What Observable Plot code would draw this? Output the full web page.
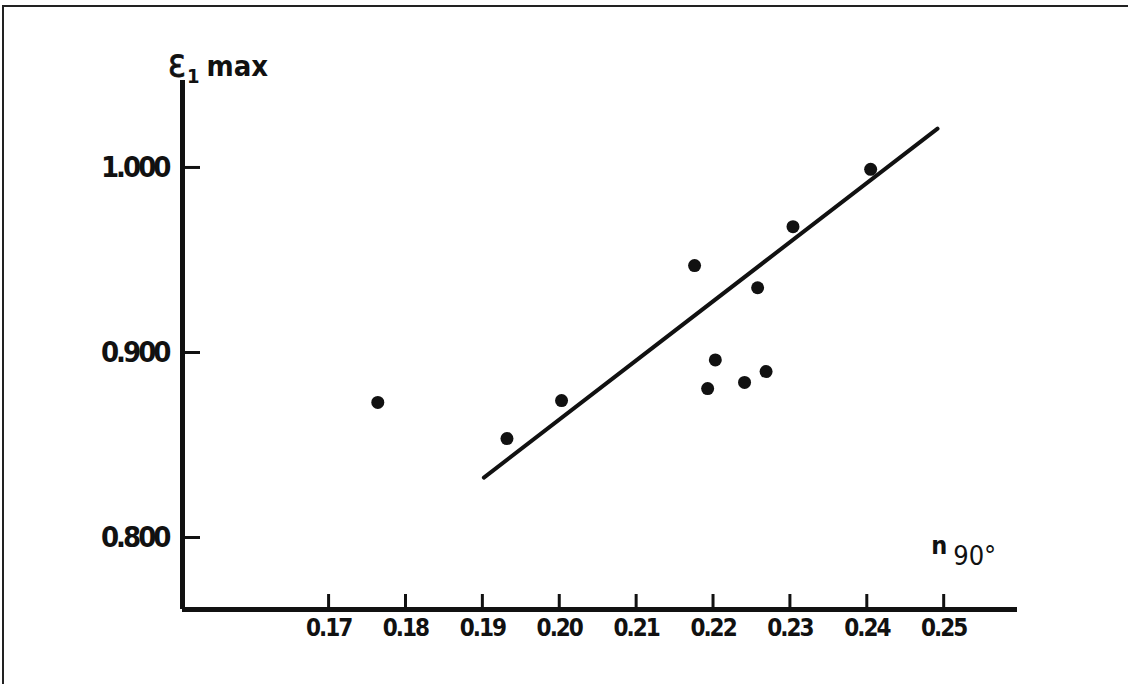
<!DOCTYPE html>
<html><head><meta charset="utf-8">
<script src="https://cdn.jsdelivr.net/npm/d3@7"></script>
<script src="https://cdn.jsdelivr.net/npm/@observablehq/plot@0.6"></script>
<style>
body{margin:0;background:#fff;}
#wrap{position:relative;width:1128px;height:684px;overflow:hidden;background:#fff;}
#border{position:absolute;left:2px;top:5px;width:1200px;height:800px;border-left:2px solid #222;border-top:2px solid #222;pointer-events:none;}
</style></head><body><div id="wrap"><div id="chart"></div><div id="border"></div></div>
<script>
// Tick values
const xTicks = [0.17, 0.18, 0.19, 0.20, 0.21, 0.22, 0.23, 0.24, 0.25];
const yTicks = [0.800, 0.900, 1.000];
// Measured points: n90° vs ε1 max
const nValues   = [0.1764, 0.1932, 0.2003, 0.2176, 0.2193, 0.2203, 0.2241, 0.2258, 0.2269, 0.2304, 0.2405];
const epsValues = [0.873, 0.8535, 0.874, 0.947, 0.8805, 0.896, 0.8838, 0.935, 0.8897, 0.968, 0.999];
// Fitted line end points
const fitN   = [0.1902, 0.2492];
const fitEps = [0.8324, 1.021];
// Axis extents
const xDomain = [0.151, 0.2596];
const yDomain = [0.7611, 1.047];

const W = 1128, H = 684, mL = 182, mR = 111, mT = 80, mB = 75;
const pxPerX = (W - mL - mR) / (xDomain[1] - xDomain[0]);
const pxPerY = (H - mT - mB) / (yDomain[1] - yDomain[0]);

const points = nValues.map((n, i) => ({n, eps: epsValues[i]}));
const fit = fitN.map((n, i) => ({n, eps: fitEps[i]}));
const ink = "#111";
const font = "'DejaVu Sans Condensed', 'DejaVu Sans', sans-serif";

const chart = Plot.plot({
  width: W, height: H,
  marginLeft: mL, marginRight: mR, marginTop: mT, marginBottom: mB,
  style: {fontFamily: font, background: "#fff", color: ink},
  x: {domain: xDomain},
  y: {domain: yDomain},
  marks: [
    Plot.axisY(yTicks, {tickSize: 0, tickPadding: 14, tickFormat: d3.format(".3f"), fontSize: 29, fontWeight: "bold", label: null}),
    Plot.axisX(xTicks, {tickSize: 0, tickPadding: 9, tickFormat: d3.format(".2f"), fontSize: 24, fontWeight: "bold", label: null}),
    Plot.ruleY(yTicks, {x1: xDomain[0], x2: xDomain[0] + 18 / pxPerX, stroke: ink, strokeWidth: 3}),
    Plot.ruleX(xTicks, {y1: yDomain[0], y2: yDomain[0] + 15 / pxPerY, stroke: ink, strokeWidth: 3}),
    Plot.ruleX([xDomain[0]], {y1: yDomain[0], y2: yDomain[1], stroke: ink, strokeWidth: 5}),
    Plot.ruleY([yDomain[0]], {x1: xDomain[0], x2: xDomain[1], stroke: ink, strokeWidth: 5}),
    Plot.line(fit, {x: "n", y: "eps", stroke: ink, strokeWidth: 4}),
    Plot.dot(points, {x: "n", y: "eps", r: 6.5, fill: ink, stroke: "none"})
  ]
});
document.getElementById("chart").appendChild(chart);

const svg = d3.select(chart);
svg.selectAll("g[aria-label='y-axis tick label'] text").attr("letter-spacing", "-3px");
svg.selectAll("g[aria-label='x-axis tick label'] text").attr("letter-spacing", "-2px");

const xs = chart.scale("x"), ys = chart.scale("y");
// Y-axis title: ε1 max
const t1 = svg.append("text")
  .attr("x", xs.apply(xDomain[0]) - 14)
  .attr("y", ys.apply(yDomain[1]) - 4)
  .attr("fill", ink)
  .attr("text-anchor", "start")
  .attr("font-weight", "bold")
  .style("font-family", font);
t1.append("tspan").attr("font-size", 37).attr("font-weight", "normal").attr("stroke", ink).attr("stroke-width", 0.8).text("ε");
t1.append("tspan").attr("font-size", 20).attr("dy", 7).attr("dx", 1).text("1");
t1.append("tspan").attr("font-size", 29).attr("dy", -7).attr("dx", 7).text("max");
// X-axis title: n 90°
const t2 = svg.append("text")
  .attr("x", xs.apply(0.25) - 12)
  .attr("y", ys.apply(0.8) + 17)
  .attr("fill", ink)
  .attr("text-anchor", "start")
  .style("font-family", font);
t2.append("tspan").attr("font-size", 25).attr("font-weight", "bold").text("n");
t2.append("tspan").attr("font-size", 27).attr("dy", 11).attr("dx", 6).text("90°");
</script></body></html>
